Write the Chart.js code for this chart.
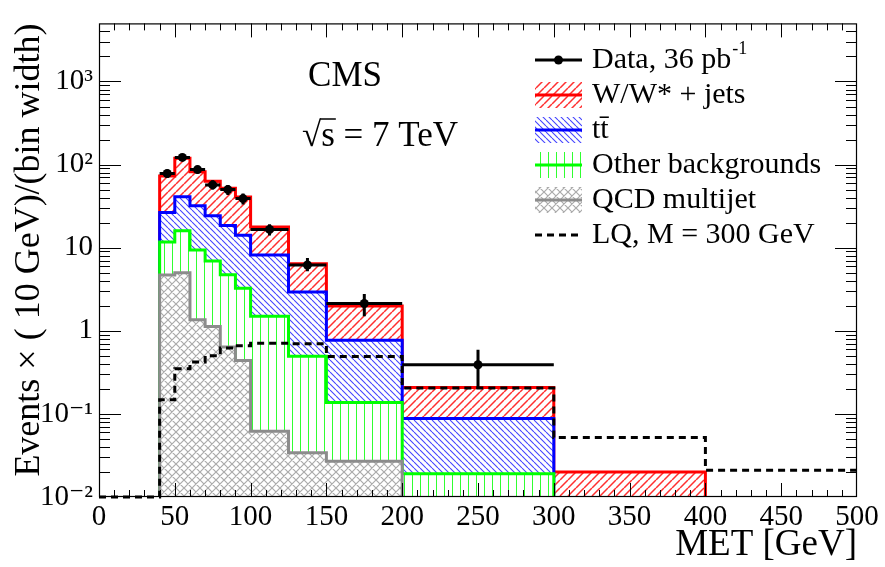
<!DOCTYPE html>
<html>
<head>
<meta charset="utf-8">
<script src="https://cdn.jsdelivr.net/npm/chart.js@4.4.0/dist/chart.umd.min.js"></script>
<style>
  html, body { margin: 0; padding: 0; background: #fff; }
  canvas { display: block; }
</style>
</head>
<body>
<canvas id="met" width="885" height="567"></canvas>
<script>
// MET bin edges [GeV]
const binEdges = [40, 50, 60, 70, 80, 90, 100, 125, 150, 200, 300, 400, 500];

// per-process yields, events x (10 GeV)/(bin width)
const qcdMultijet = [4.7, 5.0, 1.36, 1.13, 0.64, 0.44, 0.062, 0.034, 0.027, 0, 0, 0];
const otherBkg    = [7.0, 11.0, 8.0, 5.8, 4.1, 2.8, 1.43, 0.46, 0.11, 0.019, 0, 0];
const ttbar       = [14.8, 25, 22.6, 17.3, 13.8, 10.9, 6.7, 2.43, 0.63, 0.069, 0, 0];
const wJets       = [46.5, 78, 50, 38.8, 33.5, 26.6, 9.5, 3.5, 1.22, 0.12, 0.02, 0];

// LQ signal M = 300 GeV (0-40 bin lies on the axis)
const lqEdges  = [0, 40, 50, 60, 70, 80, 90, 100, 125, 150, 200, 300, 400, 500];
const lqSignal = [0.01, 0.148, 0.35, 0.42, 0.50, 0.62, 0.66, 0.71, 0.70, 0.49, 0.205, 0.052, 0.021];

// data points with errors
const dataX   = [45, 55, 65, 75, 85, 95, 112.5, 137.5, 175, 250];
const dataXLo = [40, 50, 60, 70, 80, 90, 100, 125, 150, 200];
const dataXHi = [50, 60, 70, 80, 90, 100, 125, 150, 200, 300];
const dataY   = [78, 122, 87, 57, 50, 39, 16.6, 6.2, 2.13, 0.39];
const dataYLo = [69, 111, 78, 50, 43, 33, 14.0, 5.2, 1.5, 0.2];
const dataYHi = [87, 133, 96, 65, 57, 45, 19.2, 7.5, 2.77, 0.59];

// axes
const xTickStep = 50;
const yTickValues = [0.01, 0.1, 1, 10, 100, 1000];
const yTickLabels = ['10\u207B\u00B2', '10\u207B\u00B9', '1', '10', '10\u00B2', '10\u00B3'];
const Y_MIN = 0.01, Y_MAX = 5000;

const SERIF = '"Liberation Serif", "DejaVu Serif", serif';

// ---- hatch patterns (white backed so each stack layer hides the one below)
function makePattern(size, color, width, draw) {
    const c = document.createElement('canvas');
    c.width = size; c.height = size;
    const g = c.getContext('2d');
    g.fillStyle = '#fff';
    g.fillRect(0, 0, size, size);
    g.strokeStyle = color;
    g.lineWidth = width;
    g.beginPath();
    draw(g, size);
    g.stroke();
    return g.createPattern(c, 'repeat');
}
const fwd = (g, s) => { for (let k = -1; k <= 1; k++) { g.moveTo(k * s, s); g.lineTo(k * s + s, 0); } };
const back = (g, s) => { for (let k = -1; k <= 1; k++) { g.moveTo(k * s, 0); g.lineTo(k * s + s, s); } };
const vert = (g, s) => { g.moveTo(s / 2 + 0.5, 0); g.lineTo(s / 2 + 0.5, s); };
const cross = (g, s) => { fwd(g, s); back(g, s); };

const hatch = {
    red: makePattern(8, '#ff3030', 1.5, fwd),
    blue: makePattern(6, '#4646ff', 1.1, back),
    green: makePattern(8, '#30ff30', 1, vert),
    grey: makePattern(8, '#ababab', 1.2, cross)
};

// ---- histogram helpers
function cumulative(...layers) {
    return layers[0].map((_, i) => layers.reduce((s, l) => s + l[i], 0));
}

function histPoints(edges, values, floor) {
    let n = values.length;
    while (n > 0 && !(values[n - 1] > 0)) n--;
    const pts = [];
    if (floor != null) pts.push({ x: edges[0], y: floor });
    for (let i = 0; i < n; i++) pts.push({ x: edges[i], y: Math.max(values[i], floor || 0) });
    pts.push({ x: edges[n], y: values[n - 1] });
    if (floor != null) pts.push({ x: edges[n], y: floor });
    return pts;
}

const topQcd   = cumulative(qcdMultijet);
const topOther = cumulative(qcdMultijet, otherBkg);
const topTt    = cumulative(qcdMultijet, otherBkg, ttbar);
const topW     = cumulative(qcdMultijet, otherBkg, ttbar, wJets);

function stackDataset(label, values, color, pattern, order) {
    return {
        label, order,
        data: histPoints(binEdges, values, Y_MIN),
        borderColor: color,
        borderWidth: 3,
        backgroundColor: pattern,
        fill: 'start',
        stepped: true,
        pointRadius: 0,
        tension: 0
    };
}

// ---- plugins
const errorBars = {
    id: 'errorBars',
    afterDatasetsDraw(chart) {
        const { ctx, scales: { x, y } } = chart;
        ctx.save();
        ctx.strokeStyle = '#000';
        ctx.lineWidth = 3;
        ctx.beginPath();
        dataX.forEach((v, i) => {
            const px = x.getPixelForValue(v), py = y.getPixelForValue(dataY[i]);
            ctx.moveTo(x.getPixelForValue(dataXLo[i]), py);
            ctx.lineTo(x.getPixelForValue(dataXHi[i]), py);
            ctx.moveTo(px, y.getPixelForValue(dataYLo[i]));
            ctx.lineTo(px, y.getPixelForValue(dataYHi[i]));
        });
        ctx.stroke();
        ctx.restore();
    }
};

const frameAxes = {
    id: 'frameAxes',
    afterDraw(chart) {
        const { ctx, chartArea: a, scales: { x, y } } = chart;
        ctx.save();
        ctx.strokeStyle = '#000';
        ctx.lineWidth = 1;
        ctx.beginPath();
        // x ticks, bottom and top
        for (let v = x.min + 10; v < x.max; v += 10) {
            const px = Math.round(x.getPixelForValue(v)) + 0.5;
            const len = v % xTickStep === 0 ? 14 : 7;
            ctx.moveTo(px, a.bottom); ctx.lineTo(px, a.bottom - len);
            ctx.moveTo(px, a.top); ctx.lineTo(px, a.top + len);
        }
        // log ticks, left and right
        for (let d = -2; d <= 3; d++) {
            for (let m = 1; m <= 9; m++) {
                const v = m * Math.pow(10, d);
                if (v <= Y_MIN || v >= Y_MAX) continue;
                const py = Math.round(y.getPixelForValue(v)) + 0.5;
                const len = m === 1 ? 22 : 11;
                ctx.moveTo(a.left, py); ctx.lineTo(a.left + len, py);
                ctx.moveTo(a.right, py); ctx.lineTo(a.right - len, py);
            }
        }
        ctx.stroke();
        ctx.lineWidth = 1.2;
        ctx.strokeRect(a.left + 0.5, a.top + 0.5, a.right - a.left - 1, a.bottom - a.top - 1);
        ctx.restore();
    }
};

const legendRows = [
    { label: 'Data, 36 pb', sup: '-1', kind: 'data' },
    { label: 'W/W* + jets', kind: 'fill', color: '#ff0000', pattern: 'red' },
    { label: 'tt\u0304', kind: 'fill', color: '#0000ff', pattern: 'blue' },
    { label: 'Other backgrounds', kind: 'fill', color: '#00ff00', pattern: 'green' },
    { label: 'QCD multijet', kind: 'fill', color: '#8c8c8c', pattern: 'grey' },
    { label: 'LQ, M = 300 GeV', kind: 'dash' }
];

const labels = {
    id: 'labels',
    afterDraw(chart) {
        const { ctx } = chart;
        ctx.save();
        ctx.fillStyle = '#000';

        // CMS label
        ctx.font = '35px ' + SERIF;
        ctx.textAlign = 'center';
        ctx.textBaseline = 'alphabetic';
        ctx.fillText('CMS', 345, 86);

        // sqrt(s) = 7 TeV
        ctx.textAlign = 'left';
        const sx = 302, sy = 146;
        ctx.fillText('\u221As = 7 TeV', sx, sy);
        const wRoot = ctx.measureText('\u221A').width;
        const wS = ctx.measureText('s').width;
        ctx.lineWidth = 1.5;
        ctx.beginPath();
        ctx.moveTo(sx + wRoot - 1, sy - 27);
        ctx.lineTo(sx + wRoot + wS + 1, sy - 27);
        ctx.stroke();

        // legend
        const x0 = 535, x1 = 582, tx = 592;
        legendRows.forEach((row, i) => {
            const cy = 60 + i * 35;
            if (row.kind === 'data') {
                ctx.strokeStyle = '#000'; ctx.lineWidth = 3;
                ctx.beginPath(); ctx.moveTo(x0, cy); ctx.lineTo(x1, cy); ctx.stroke();
                ctx.beginPath(); ctx.arc((x0 + x1) / 2, cy, 4.5, 0, Math.PI * 2); ctx.fill();
            } else if (row.kind === 'fill') {
                ctx.fillStyle = hatch[row.pattern];
                ctx.fillRect(x0, cy - 13, x1 - x0, 26);
                ctx.strokeStyle = row.color; ctx.lineWidth = 3;
                ctx.beginPath(); ctx.moveTo(x0, cy); ctx.lineTo(x1, cy); ctx.stroke();
                ctx.fillStyle = '#000';
            } else {
                ctx.strokeStyle = '#000'; ctx.lineWidth = 3;
                ctx.setLineDash([7, 5]);
                ctx.beginPath(); ctx.moveTo(x0, cy); ctx.lineTo(x1, cy); ctx.stroke();
                ctx.setLineDash([]);
            }
            ctx.font = '30px ' + SERIF;
            ctx.textBaseline = 'middle';
            ctx.fillText(row.label, tx, cy);
            if (row.sup) {
                const w = ctx.measureText(row.label).width;
                ctx.font = '18px ' + SERIF;
                ctx.fillText(row.sup, tx + w + 1, cy - 11);
            }
        });
        ctx.restore();
    }
};

// ---- chart
const ctx = document.getElementById('met').getContext('2d');

const chart = new Chart(ctx, {
    type: 'line',
    data: {
        datasets: [
            {
                type: 'scatter',
                label: 'Data, 36 pb-1',
                order: 0,
                data: dataX.map((x, i) => ({ x, y: dataY[i] })),
                backgroundColor: '#000',
                borderColor: '#000',
                borderWidth: 0,
                pointRadius: 4.5,
                showLine: false
            },
            {
                label: 'LQ, M = 300 GeV',
                order: 1,
                data: histPoints(lqEdges, lqSignal, null),
                borderColor: '#000',
                borderWidth: 3,
                borderDash: [7, 5],
                fill: false,
                stepped: true,
                pointRadius: 0,
                clip: 6
            },
            stackDataset('QCD multijet', topQcd, '#8c8c8c', hatch.grey, 2),
            stackDataset('Other backgrounds', topOther, '#00ff00', hatch.green, 3),
            stackDataset('ttbar', topTt, '#0000ff', hatch.blue, 4),
            stackDataset('W/W* + jets', topW, '#ff0000', hatch.red, 5)
        ]
    },
    options: {
        responsive: false,
        animation: false,
        events: [],
        layout: { padding: { top: 11, right: 28, left: 0, bottom: 0 } },
        scales: {
            x: {
                type: 'linear',
                min: 0,
                max: 500,
                grid: { display: false, drawTicks: false },
                border: { display: false },
                ticks: {
                    stepSize: xTickStep,
                    autoSkip: false,
                    maxRotation: 0,
                    padding: 3,
                    color: '#000',
                    font: { family: SERIF, size: 29 }
                },
                title: {
                    display: true,
                    text: 'MET [GeV]',
                    align: 'end',
                    color: '#000',
                    padding: { top: 0, bottom: 0 },
                    font: { family: SERIF, size: 37 }
                },
                afterFit: (s) => { s.height = 70; }
            },
            y: {
                type: 'logarithmic',
                min: Y_MIN,
                max: Y_MAX,
                grid: { display: false, drawTicks: false },
                border: { display: false },
                afterBuildTicks: (s) => { s.ticks = yTickValues.map(v => ({ value: v, major: true })); },
                ticks: {
                    autoSkip: false,
                    padding: 6,
                    color: '#000',
                    font: { family: SERIF, size: 29 },
                    callback: (v) => yTickLabels[yTickValues.indexOf(v)]
                },
                title: {
                    display: true,
                    text: 'Events \u00D7 ( 10 GeV)/(bin width)',
                    align: 'end',
                    color: '#000',
                    padding: { top: 8, bottom: 0 },
                    font: { family: SERIF, size: 36 }
                },
                afterFit: (s) => { s.width = 99; }
            }
        },
        plugins: {
            legend: { display: false },
            tooltip: { enabled: false }
        }
    },
    plugins: [errorBars, frameAxes, labels]
});
</script>
</body>
</html>
